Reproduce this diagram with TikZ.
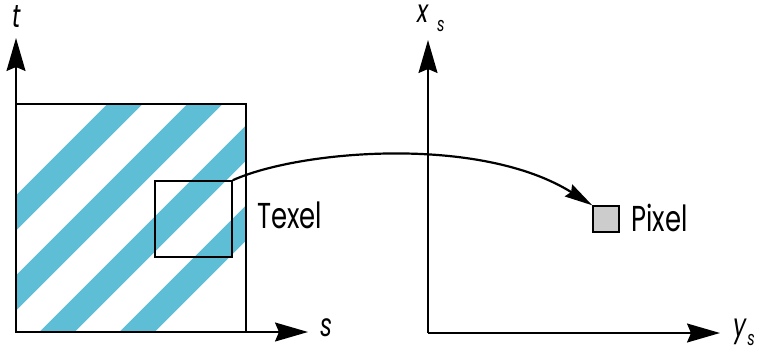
\documentclass[tikz,border=0pt]{standalone}
\usepackage{fontspec}
\setmainfont{Poppins}
\newfontfamily\lblfont[FakeStretch=0.72]{Poppins}
\definecolor{TexBlue}{RGB}{94,190,214}
\usetikzlibrary{arrows.meta,positioning}

\begin{document}
\begin{tikzpicture}[x=1pt,y=-1pt,
  axis/.style={line width=1.6pt,-{Stealth[length=33pt,width=19pt,inset=4pt]}},
  lbl/.style={font=\lblfont\fontsize{36}{36}\selectfont,inner sep=0pt},
  axlbl/.style={font=\lblfont\itshape\fontsize{32}{32}\selectfont,inner sep=0pt},
  sublbl/.style={font=\lblfont\itshape\fontsize{20}{20}\selectfont,inner sep=0pt}]
  \useasboundingbox (0,0) rectangle (760,354);
  % texture space
  \coordinate (o1) at (16,332);
  \coordinate (t1) at (16,38);
  \coordinate (s1) at (308,332);
  \begin{scope}
    \clip (16,104) rectangle (246,332);
    \foreach \c in {229,309,389,469}
      \draw[TexBlue,line width=25pt] (\c-400,400) -- (\c-0,0);
  \end{scope}
  \node[draw,line width=1.6pt,minimum width=230pt,minimum height=228pt,inner sep=0pt] (tex) at (131,218) {};
  \draw[axis] (o1) -- (t1);
  \draw[axis] (o1) -- (s1);
  \node[axlbl] (tl) at (17,17) {t};
  \node[axlbl] (sl) at (327,328) {s};
  \node[draw,line width=1.6pt,minimum width=77pt,minimum height=76pt,inner sep=0pt] (texel) at (193.5,219) {};
  \node[lbl,anchor=west] (texl) at (257,215) {Texel};
  % screen space
  \coordinate (o2) at (428,333);
  \coordinate (x2) at (428,40);
  \coordinate (y2) at (720,333);
  \draw[axis] (o2) -- (x2);
  \draw[axis] (o2) -- (y2);
  \node[axlbl] (xl) at (423,14) {x};
  \node[sublbl] (xs) at (441,26) {s};
  \node[axlbl] (yl) at (740,332) {y};
  \node[sublbl] (ys) at (751,340) {s};
  \node[draw,line width=1.4pt,fill=black!20,minimum size=26pt,inner sep=0pt] (pix) at (606,219) {};
  \node[lbl,anchor=west] (pixl) at (631,218) {Pixel};
  % mapping
  \draw[line width=2.2pt,-{Stealth[length=28pt,width=14pt,inset=3pt]}] (texel.north east) .. controls (300,150) and (480,135) .. (pix.north west);
\end{tikzpicture}
\end{document}
